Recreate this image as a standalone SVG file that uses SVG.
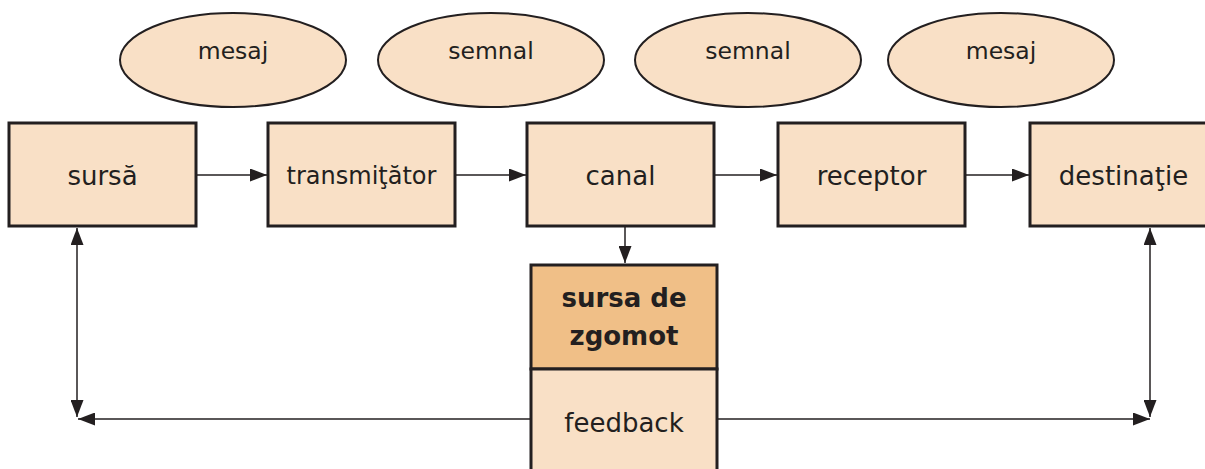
<svg xmlns="http://www.w3.org/2000/svg" width="1205" height="469" viewBox="0 0 1205 469">
<defs>
<style>
.box{fill:#f9e0c6;stroke:#231f20;stroke-width:3}
.noise{fill:#f0bf87;stroke:#231f20;stroke-width:3}
.ell{fill:#f9e0c6;stroke:#231f20;stroke-width:2}
.t{font-family:"DejaVu Sans",Verdana,sans-serif;font-size:26px;fill:#231f20;text-anchor:middle}
.te{font-family:"DejaVu Sans",Verdana,sans-serif;font-size:23.5px;fill:#231f20;text-anchor:middle}
.tb{font-family:"DejaVu Sans",Verdana,sans-serif;font-size:26px;font-weight:bold;fill:#231f20;text-anchor:middle}
.ln{stroke:#231f20;stroke-width:1.5;fill:none}
</style>
<marker id="ah" viewBox="0 0 17 13" refX="17" refY="6.5" markerWidth="17" markerHeight="13" markerUnits="userSpaceOnUse" orient="auto-start-reverse">
<path d="M0,0 L17,6.5 L0,13 Z" fill="#231f20"/>
</marker>
</defs>
<g id="e1"><ellipse class="ell" cx="233" cy="60" rx="113" ry="47"/><text class="te" x="233" y="59">mesaj</text></g>
<g id="e2"><ellipse class="ell" cx="491" cy="60" rx="113" ry="47"/><text class="te" x="491" y="59">semnal</text></g>
<g id="e3"><ellipse class="ell" cx="748" cy="60" rx="113" ry="47"/><text class="te" x="748" y="59">semnal</text></g>
<g id="e4"><ellipse class="ell" cx="1001" cy="60" rx="113" ry="47"/><text class="te" x="1001" y="59">mesaj</text></g>
<g id="connectors">
<line class="ln" x1="196" y1="175" x2="267" y2="175" marker-end="url(#ah)"/>
<line class="ln" x1="455" y1="175" x2="526" y2="175" marker-end="url(#ah)"/>
<line class="ln" x1="714" y1="175" x2="777" y2="175" marker-end="url(#ah)"/>
<line class="ln" x1="965" y1="175" x2="1029" y2="175" marker-end="url(#ah)"/>
<line class="ln" x1="625" y1="226" x2="625" y2="263" marker-end="url(#ah)"/>
<line class="ln" x1="77" y1="228" x2="77" y2="417" marker-start="url(#ah)" marker-end="url(#ah)"/>
<line class="ln" x1="531" y1="419" x2="78" y2="419" marker-end="url(#ah)"/>
<line class="ln" x1="1150" y1="228" x2="1150" y2="417" marker-start="url(#ah)" marker-end="url(#ah)"/>
<line class="ln" x1="717" y1="419" x2="1150" y2="419" marker-end="url(#ah)"/>
</g>
<g id="sursa"><rect class="box" x="9" y="123" width="187" height="103"/><text class="t" x="102.5" y="185">sursă</text></g>
<g id="transmitator"><rect class="box" x="268" y="123" width="187" height="103"/><text class="t" x="361.5" y="184" style="font-size:24px">transmiţător</text></g>
<g id="canal"><rect class="box" x="527" y="123" width="187" height="103"/><text class="t" x="620.5" y="185">canal</text></g>
<g id="receptor"><rect class="box" x="778" y="123" width="187" height="103"/><text class="t" x="871.5" y="185">receptor</text></g>
<g id="destinatie"><rect class="box" x="1030" y="123" width="187" height="103"/><text class="t" x="1123.5" y="185">destinaţie</text></g>
<g id="zgomot"><rect class="noise" x="531" y="265" width="186" height="104"/><text class="tb" x="624" y="307">sursa de</text><text class="tb" x="624" y="345">zgomot</text></g>
<g id="feedback"><rect class="box" x="531" y="369" width="186" height="110"/><text class="t" x="624" y="432">feedback</text></g>
</svg>
